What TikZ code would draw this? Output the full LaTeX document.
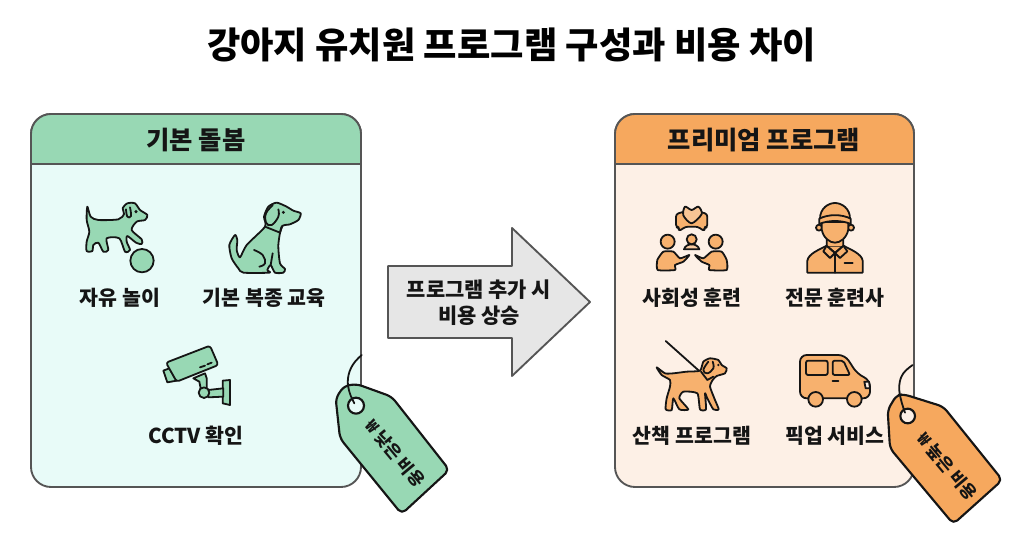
\documentclass[tikz,border=0pt]{standalone}
\usepackage{fontspec}
\setmainfont{Noto Sans CJK KR}
\usetikzlibrary{positioning,calc}
\definecolor{greenhead}{HTML}{98D8B4}
\definecolor{greenbg}{HTML}{E8FBF8}
\definecolor{orangehead}{HTML}{F6A85E}
\definecolor{orangebg}{HTML}{FDF0E6}
\definecolor{panelline}{HTML}{555555}
\definecolor{arrowfill}{HTML}{E6E6E6}
\definecolor{inkline}{HTML}{151515}

\begin{document}
\begin{tikzpicture}[x=0.75pt,y=-0.75pt]
\tikzset{
  panel/.style={draw=panelline, line width=1.4pt},
  itemlabel/.style={font=\bfseries\fontsize{15.4}{17}\selectfont, text=inkline, inner sep=0pt},
  headlabel/.style={font=\bfseries\fontsize{19}{22}\selectfont, text=inkline, inner sep=0pt},
  taglabel/.style={font=\bfseries\fontsize{12.8}{14}\selectfont, text=inkline, inner sep=0pt, rotate=-50},
  icongreen/.style={draw=inkline, fill=greenhead, line width=1.35pt, line join=round},
  iconorange/.style={draw=inkline, fill=orangehead!90!white, line width=1.35pt, line join=round},
  iconline/.style={draw=inkline, line width=1.35pt, line cap=round, line join=round},
  tagline/.style={draw=inkline, line width=1.6pt, line join=round},
  cropa/.style={shift={(30,170)}, x=0.25pt, y=-0.25pt},
  cropb/.style={shift={(620,190)}, x=0.25pt, y=-0.25pt},
  cropc/.style={shift={(620,330)}, x=0.25pt, y=-0.25pt},
  cropd/.style={shift={(320,350)}, x=0.25pt, y=-0.25pt}
}
\useasboundingbox (0,0) rectangle (1024,559);

% Title
\node[font=\bfseries\fontsize{27.2}{30}\selectfont, text=black, inner sep=0pt] (title) at (511.5,45) {강아지 유치원 프로그램 구성과 비용 차이};

% Left panel
\draw[panel, fill=greenbg, rounded corners=15pt] (31,114) rectangle (361,487);
\draw[panel, fill=greenhead] (31,164) [rounded corners=15pt] -- (31,114) -- (361,114) [sharp corners] -- (361,164) -- cycle;
\node[headlabel] (basichead) at (196,140) {기본 돌봄};

% Right panel
\draw[panel, fill=orangebg, rounded corners=15pt] (615,114) rectangle (914,487);
\draw[panel, fill=orangehead] (615,164) [rounded corners=15pt] -- (615,114) -- (914,114) [sharp corners] -- (914,164) -- cycle;
\node[headlabel] (premiumhead) at (764,140) {프리미엄 프로그램};

% Big arrow
\draw[draw=panelline, fill=arrowfill, line width=1.4pt, line join=round]
  (388,266) -- (512,266) -- (512,228) -- (590,302) -- (512,376) -- (512,338) -- (388,338) -- cycle;
\node[font=\bfseries\fontsize{15.7}{19.5}\selectfont, text=inkline, align=center, inner sep=0pt] (risetext) at (479,303) {프로그램 추가 시\\비용 상승};

% Labels
\node[itemlabel] (play) at (120,298) {자유 놀이};
\node[itemlabel] (obey) at (264,298) {기본 복종 교육};
\node[itemlabel] (cctv) at (196,436) {CCTV 확인};
\node[itemlabel] (social) at (692,298) {사회성 훈련};
\node[itemlabel] (trainer) at (835,298) {전문 훈련사};
\node[itemlabel] (walk) at (692,436) {산책 프로그램};
\node[itemlabel] (pickup) at (835,436) {픽업 서비스};

% Green icons
\begin{scope}[cropa]
  % puppy and ball
  \draw[icongreen] plot[smooth cycle, tension=.45] coordinates {(172,110) (182,140) (205,150) (265,148) (282,132) (278,115) (292,100) (315,100) (330,120) (352,135) (345,150) (320,155) (305,180) (335,208) (335,222) (318,218) (292,198) (290,215) (300,240) (285,245) (268,205) (230,205) (235,240) (220,245) (205,218) (190,225) (187,243) (170,243) (170,215) (178,185) (170,150)};
  \draw[iconline] plot[smooth, tension=.7] coordinates {(288,118) (292,140) (303,138) (300,112)};
  \fill[inkline] (318,125) circle (5);
  \draw[icongreen] (336,272) circle (35);
  % sitting dog
  \draw[icongreen] plot[smooth cycle, tension=.4] coordinates {(740,98) (770,110) (790,122) (812,130) (805,150) (780,163) (755,170) (745,225) (750,280) (765,297) (760,308) (735,308) (722,285) (712,300) (718,308) (640,308) (625,295) (605,265) (598,225) (615,195) (622,210) (620,240) (630,262) (650,225) (705,170) (702,140) (715,110)};
  \draw[iconline] plot[smooth, tension=.7] coordinates {(728,106) (708,130) (708,158) (725,165) (745,140) (745,118)};
  \draw[iconline] (705,170) -- (750,188) -- (757,168);
  \draw[iconline] plot[smooth, tension=.7] coordinates {(672,240) (698,255) (705,280) (688,290)};
  \draw[iconline] (722,285) -- (728,250);
  \fill[inkline] (760,127) circle (5);
  % camera
  \draw[icongreen] (578,632) -- (600,630) -- (600,705) -- (578,700) -- cycle;
  \draw[icongreen] (535,660) -- (580,655) -- (580,680) -- (535,682) -- cycle;
  \draw[icongreen] (490,625) -- (525,610) -- (530,625) -- (530,655) -- (512,655) -- (508,635) -- cycle;
  \draw[icongreen] (522,668) circle (16);
  \draw[icongreen] (400,602) -- (418,595) -- (440,632) -- (412,637) -- cycle;
  \draw[icongreen, rounded corners=2pt] (408,578) -- (540,527) -- (565,585) -- (440,635) -- cycle;
  \draw[iconline] (510,592) -- (525,587) (532,583) -- (545,578);
\end{scope}

% Orange icons
\begin{scope}[cropb]
  % heart and bubbles
  \draw[iconorange, rounded corners=2pt] (192,65) -- (168,72) -- (168,112) -- (178,112) -- (176,124) -- (197,110) -- (233,110) -- (254,124) -- (252,112) -- (262,112) -- (262,72) -- (238,65) -- cycle;
  \draw[iconorange, fill=orangebg!40!orangehead] plot[smooth cycle, tension=.5] coordinates {(215,100) (190,76) (195,50) (215,60) (235,50) (245,72)};
  % three people
  \draw[iconorange, fill=orangehead!50!orangebg] (192,178) .. controls (197,158) and (233,158) .. (238,178) -- cycle;
  \draw[iconorange] (215,148) circle (15);
  \draw[iconorange] (143,155) circle (21);
  \draw[iconorange] (287,155) circle (21);
  \draw[iconorange] plot[smooth cycle, tension=.3] coordinates {(113,240) (112,210) (130,185) (160,185) (180,205) (208,195) (190,215) (165,225) (165,240)};
  \draw[iconorange] plot[smooth cycle, tension=.3] coordinates {(320,240) (320,210) (305,185) (275,185) (250,205) (225,195) (245,215) (268,225) (268,240)};
  % trainer
  \draw[iconorange] (597,113) circle (9);
  \draw[iconorange] (693,113) circle (9);
  \draw[iconorange] (562,248) -- (562,212) .. controls (565,192) and (595,180) .. (620,167) -- (670,167) .. controls (695,180) and (725,192) .. (728,212) -- (728,248) -- cycle;
  \draw[iconorange] (610,184) -- (620,167) -- (645,189) -- (670,167) -- (682,184) -- (660,204) -- (645,189) -- (630,204) -- cycle;
  \draw[iconorange, draw=none] (622,140) rectangle (668,168);
  \draw[iconline] (620,150) -- (620,167) -- (645,189) -- (670,167) -- (670,150);
  \draw[iconorange] (605,96) -- (685,96) -- (685,118) .. controls (680,145) and (660,158) .. (645,158) .. controls (630,158) and (610,145) .. (605,118) -- cycle;
  \draw[iconorange] (600,86) .. controls (600,55) and (625,39) .. (645,39) .. controls (665,39) and (690,55) .. (690,86) -- cycle;
  \draw[iconorange] (598,86) .. controls (625,72) and (665,72) .. (692,86) -- (692,102) .. controls (665,90) and (625,90) .. (598,102) -- cycle;
  \draw[iconline] (645,189) -- (645,248);
  \draw[iconline, line width=1.5pt] (674,220) -- (698,220);
\end{scope}

\begin{scope}[cropc]
  % dog on leash
  \draw[iconline] (137,33) -- (240,125);
  \draw[iconorange] plot[smooth cycle, tension=.35] coordinates {(110,112) (135,130) (160,130) (200,125) (240,122) (250,95) (270,85) (295,90) (305,105) (320,115) (315,130) (290,138) (278,150) (270,170) (285,210) (296,238) (280,238) (262,205) (255,190) (258,238) (240,238) (232,190) (190,185) (178,205) (205,238) (178,238) (160,205) (155,240) (137,238) (140,205) (150,170) (150,150) (125,135)};
  \draw[iconline] plot[smooth, tension=.7] coordinates {(265,95) (250,120) (262,130) (280,115) (278,95)};
  \draw[iconline] (243,125) -- (262,150) -- (280,140);
  \fill[inkline] (295,105) circle (4);
  % van
  \draw[iconorange, rounded corners=5pt] (540,205) -- (540,75) -- (675,75) -- (712,132) -- (750,150) -- (750,205) -- cycle;
  \draw[iconorange, rounded corners=1.5pt] (558,92) rectangle (623,135);
  \draw[iconorange, rounded corners=1.5pt] (638,92) -- (670,92) -- (690,135) -- (638,135) -- cycle;
  \draw[iconorange, fill=orangebg] (733,155) -- (747,155) -- (750,175) -- (737,175) -- cycle;
  \draw[iconline, line width=1.5pt] (638,152) -- (655,152);
  \draw[iconorange] (587,208) circle (22);
  \draw[iconorange] (703,208) circle (22);
  % orange tag
  \draw[tagline, fill=orangehead, rounded corners=4pt] (830,195) -- (852,193) -- (970,230) -- (1147,450) -- (1000,582) -- (810,355) -- (803,240) -- cycle;
  \draw[tagline, fill=orangebg] (863,258) circle (22);
  \draw[iconline] plot[smooth, tension=.7] coordinates {(855,248) (842,205) (838,165) (850,130) (878,105)};
  \node[taglabel] (orangetag) at (982,408) {₩ 높은 비용};
\end{scope}

% Green tag
\begin{scope}[cropd]
  \draw[tagline, fill=greenhead, rounded corners=4pt] (72,108) -- (110,102) -- (215,140) -- (388,360) -- (245,492) -- (60,265) -- (47,145) -- cycle;
  \draw[tagline, fill=greenbg] (108,167) circle (24);
  \draw[iconline] plot[smooth, tension=.7] coordinates {(103,160) (88,125) (84,85) (98,45) (125,15)};
  \node[taglabel] (greentag) at (225,310) {₩ 낮은 비용};
\end{scope}
\end{tikzpicture}
\end{document}
